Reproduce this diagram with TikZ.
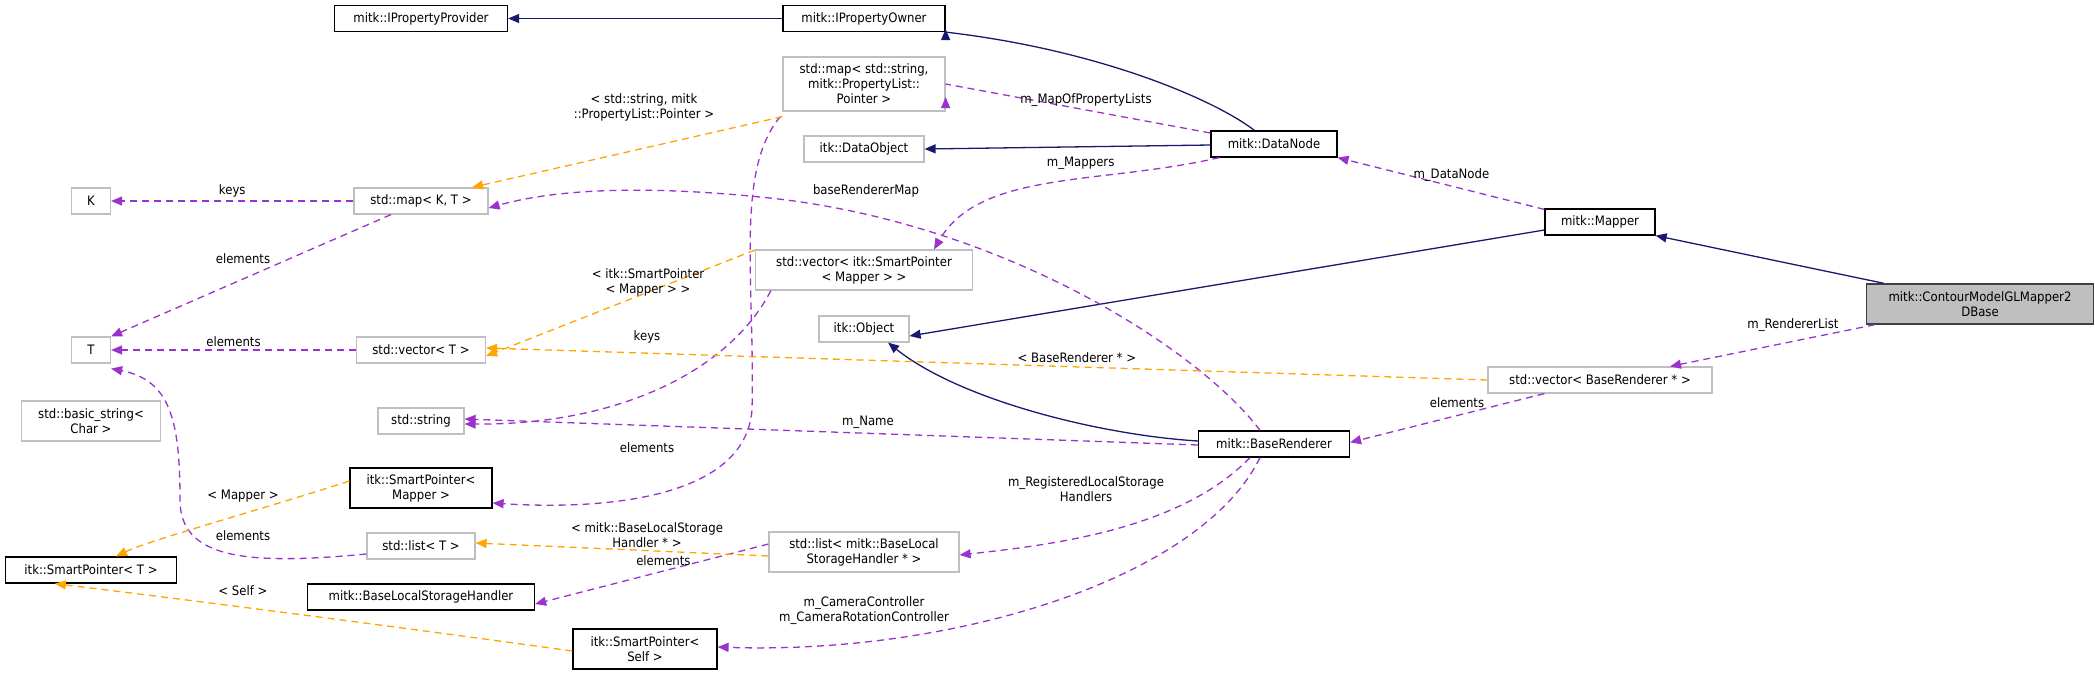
\documentclass[tikz,border=0pt]{standalone}
\usepackage{fontspec}
\setmainfont{DejaVu Sans}[FakeStretch=0.9]
\usetikzlibrary{arrows.meta}
\definecolor{navy}{HTML}{191970}
\definecolor{purp}{HTML}{9A32CD}
\definecolor{orng}{HTML}{FFA500}
\definecolor{gbord}{HTML}{BFBFBF}
\begin{document}
\begin{tikzpicture}[x=1pt,y=-1pt,
  every node/.style={font=\fontsize{13}{15}\selectfont,inner sep=0pt,align=center},
  box/.style={draw=black,line width=1.2pt,minimum height=26pt},
  gbox/.style={draw=gbord,line width=1.2pt,minimum height=26pt},
  lbl/.style={font=\fontsize{13}{15}\selectfont},
  inh/.style={draw=navy,line width=1.3pt,-{Triangle[length=11pt,width=9pt]}},
  use/.style={draw=purp,line width=1.3pt,dash pattern=on 7pt off 5pt,-{Triangle[length=11pt,width=9pt,fill=purp]}},
  tpl/.style={draw=orng,line width=1.3pt,dash pattern=on 7pt off 5pt,-{Triangle[length=11pt,width=9pt,fill=orng]}}]
\useasboundingbox (0,0) rectangle (2095,675);
% nodes
\node[box,minimum width=173pt] (prov) at (421,18.5) {mitk::IPropertyProvider};
\node[box,minimum width=162pt] (owner) at (864,18.5) {mitk::IPropertyOwner};
\node[gbox,minimum width=162pt,minimum height=54pt] (maps) at (864,84) {std::map< std::string,\\mitk::PropertyList::\\Pointer >};
\node[gbox,minimum width=120pt] (dobj) at (864,149) {itk::DataObject};
\node[box,minimum width=126pt] (dnode) at (1274,144) {mitk::DataNode};
\node[gbox,minimum width=39pt] (K) at (91,201) {K};
\node[gbox,minimum width=134pt] (mapkt) at (421,201) {std::map< K, T >};
\node[gbox,minimum width=217pt,minimum height=40pt] (vecspm) at (864,270) {std::vector< itk::SmartPointer\\< Mapper > >};
\node[gbox,minimum width=90pt] (obj) at (864,329) {itk::Object};
\node[box,minimum width=110pt] (mapper) at (1600,222) {mitk::Mapper};
\node[draw=black!75,fill=gbord,line width=1.4pt,minimum width=227pt,minimum height=40pt] (cont) at (1980,304) {mitk::ContourModelGLMapper2\\DBase};
\node[gbox,minimum width=224pt] (vecbr) at (1600,380) {std::vector< BaseRenderer * >};
\node[gbox,minimum width=39pt] (T) at (91,350) {T};
\node[gbox,minimum width=129pt] (vect) at (421,350) {std::vector< T >};
\node[gbox,minimum width=139pt,minimum height=40pt] (bstr) at (91,421) {std::basic\_string<\\Char >};
\node[gbox,minimum width=86pt] (str) at (421,421) {std::string};
\node[box,minimum width=151pt] (br) at (1274,444) {mitk::BaseRenderer};
\node[box,minimum width=142pt,minimum height=40pt] (spm) at (421,488) {itk::SmartPointer<\\Mapper >};
\node[gbox,minimum width=108pt] (listt) at (421,546) {std::list< T >};
\node[gbox,minimum width=190pt,minimum height=40pt] (listbls) at (864,552) {std::list< mitk::BaseLocal\\StorageHandler * >};
\node[box,minimum width=171pt] (spt) at (91,570) {itk::SmartPointer< T >};
\node[box,minimum width=227pt] (blsh) at (421,597) {mitk::BaseLocalStorageHandler};
\node[box,minimum width=144pt,minimum height=40pt] (spself) at (645,649) {itk::SmartPointer<\\Self >};
% inheritance
\draw[inh] (owner.west) -- (prov.east);
\draw[inh] (dnode.north west)++(44,0) .. controls (1215,100) and (1100,50) .. (owner.south east)++(0,-3);
\draw[inh] (dnode.west)++(0,1) -- (dobj.east);
\draw[inh] (mapper.west)++(0,8) -- ([xshift=0pt,yshift=-7pt]obj.east);
\draw[inh] (cont.north west)++(18,0) -- (mapper.south east);
\draw[inh] (br.west)++(0,-3) .. controls (1100,435) and (960,400) .. ([xshift=24pt]obj.south);
% usage
\draw[use] (dnode.west)++(0,-11) -- (maps.east)++(0,13) node[pos=0.47,lbl,above=3pt] {m\_MapOfPropertyLists};
\draw[use] ([xshift=9pt]dnode.south west) .. controls (1100,185) and (980,170) .. ([xshift=70pt]vecspm.north) node[pos=0.4,lbl,above=9pt] {m\_Mappers};
\draw[use] ([yshift=-1pt]mapper.north west) -- (dnode.south east) node[pos=0.45,lbl,above=4pt] {m\_DataNode};
\draw[use] ([xshift=9pt]cont.south west) -- ([xshift=70pt]vecbr.north) node[pos=0.4,lbl,above=9pt] {m\_RendererList};
\draw[use] ([xshift=57pt]vecbr.south west) -- ([yshift=-12pt]br.north east) node[pos=0.45,lbl,above=7pt] {elements};
\draw[use] ([xshift=-14pt]br.north) .. controls (1200,350) and (1000,220) .. (760,197) .. controls (650,186) and (560,188) .. ([yshift=-7pt]mapkt.east);
\node[lbl] (l_brm) at (866,191) {baseRendererMap};
\draw[use] ([yshift=-1pt]br.west) -- ([yshift=2pt]str.east) node[pos=0.45,lbl,above=4pt] {m\_Name};
\draw[use] ([xshift=-24pt]br.south) .. controls (1180,530) and (1050,545) .. ([yshift=-3pt]listbls.east);
\node[lbl] (l_rls) at (1086,489) {m\_RegisteredLocalStorage\\Handlers};
\draw[use] ([xshift=-14pt]br.south) .. controls (1200,580) and (950,655) .. ([yshift=2pt]spself.east);
\node[lbl] (l_cam) at (864,611) {m\_CameraController\\m\_CameraRotationController};
\draw[use] (mapkt.west) -- (K.east) node[midway,lbl,above=3pt] {keys};
\draw[use] ([xshift=-30pt]mapkt.south) -- (T.north east);
\node[lbl] (l_el1) at (243,259) {elements};
\draw[use] (vect.west) -- (T.east) node[midway,lbl,above=3pt] {elements};
\draw[use] ([yshift=-8pt]listt.west) .. controls (250,565) and (180,560) .. (180,500) .. controls (180,420) and (170,380) .. ([yshift=-5pt]T.south east);
\node[lbl] (l_el2) at (243,536) {elements};
\draw[use] ([xshift=16pt]vecspm.south west) .. controls (730,370) and (620,425) .. ([yshift=-3pt]str.east);
\node[lbl] (l_keys) at (647,337) {keys};
\draw[use] ([xshift=-2pt,yshift=-5pt]maps.south west) .. controls (735,170) and (755,280) .. (752,410) .. controls (745,500) and (600,510) .. ([yshift=-15pt]spm.east);
\node[lbl] (l_el3) at (647,448) {elements};
\draw[use] ([yshift=8pt]listbls.west) -- ([yshift=-7pt]blsh.east) node[pos=0.45,lbl,above=5pt] {elements};
% templates
\draw[tpl] ([yshift=-5pt]maps.south west) -- ([xshift=51pt]mapkt.north);
\node[lbl] (l_t1) at (644,107) {< std::string, mitk\\::PropertyList::Pointer >};
\draw[tpl] ([yshift=20pt]vecspm.west) -- ([yshift=-6pt]vect.east);
\node[lbl] (l_t2) at (648,282) {< itk::SmartPointer\\< Mapper > >};
\draw[tpl] (vecbr.west) -- ([yshift=2pt]vect.east) node[pos=0.41,lbl,above=4pt] {< BaseRenderer * >};
\draw[tpl] ([yshift=7pt]spm.west) .. controls (260,510) and (150,540) .. ([xshift=25pt]spt.north);
\node[lbl] (l_t3) at (243,496) {< Mapper >};
\draw[tpl] ([yshift=-4pt]listbls.west) -- ([yshift=3pt]listt.east);
\node[lbl] (l_t4) at (647,535) {< mitk::BaseLocalStorage\\Handler * >};
\draw[tpl] ([yshift=-2pt]spself.west) .. controls (420,630) and (230,605) .. ([xshift=50pt]spt.south west);
\node[lbl] (l_t5) at (243,591) {< Self >};
\end{tikzpicture}
\end{document}
